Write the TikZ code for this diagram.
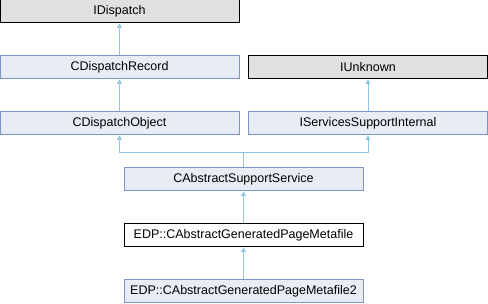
\documentclass[tikz,border=0pt]{standalone}
\usepackage{fontspec}
\setmainfont{Liberation Sans}
\usetikzlibrary{arrows.meta}
\definecolor{edgec}{HTML}{8FC5E6}
\definecolor{boxfill}{HTML}{E8ECF5}
\definecolor{boxdraw}{HTML}{7B94CC}
\definecolor{grayfill}{HTML}{E0E0E0}
\tikzset{
  cls/.style={draw=boxdraw, fill=boxfill, line width=1pt, minimum height=23pt, minimum width=239pt, inner sep=0pt, font=\fontsize{12.5}{14}\selectfont},
  ext/.style={cls, draw=black, fill=grayfill},
  cur/.style={cls, draw=black, fill=white},
  inh/.style={draw=edgec, line width=0.9pt, -{Triangle[open, fill=edgec, length=4.5pt, width=5pt]}},
}
\begin{document}
\begin{tikzpicture}[x=1pt,y=-1pt]
\useasboundingbox (0,0) rectangle (488,304);
\node[ext] (idisp) at (119.5,11.5) {IDispatch};
\node[cls] (crec) at (119.5,67.5) {CDispatchRecord};
\node[cls] (cobj) at (119.5,123.5) {CDispatchObject};
\node[ext] (iunk) at (368,67.5) {IUnknown};
\node[cls] (iserv) at (368,123.5) {IServicesSupportInternal};
\node[cls] (cabs) at (243.5,179.5) {CAbstractSupportService};
\node[cur] (gen) at (243.5,235.5) {EDP::CAbstractGeneratedPageMetafile};
\node[cls] (gen2) at (243.5,291.5) {EDP::CAbstractGeneratedPageMetafile2};
\coordinate (j) at (243.5,152.5);
\draw[inh] (crec) -- (idisp);
\draw[inh] (cobj) -- (crec);
\draw[inh] (iserv) -- (iunk);
\draw[inh] (cabs.north) -- (j) -| (cobj.south);
\draw[inh] (j) -| (iserv.south);
\draw[inh] (gen) -- (cabs);
\draw[inh] (gen2) -- (gen);
\end{tikzpicture}
\end{document}
